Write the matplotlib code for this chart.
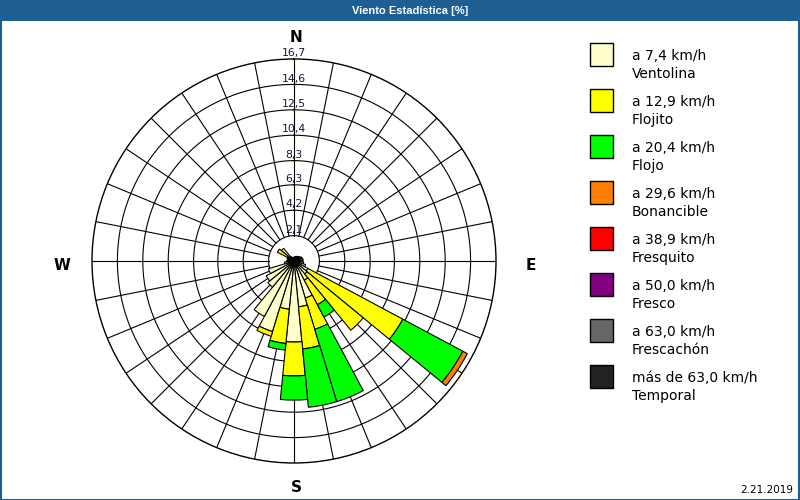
import numpy as np
import matplotlib
matplotlib.use('Agg')
import matplotlib.pyplot as plt
from matplotlib.patches import Rectangle

# ---- data ----
directions = [i * 11.25 for i in range(32)]  # bearing of each sector (deg)
ventolina = [0.3, 0.35, 0.4, 0.45, 0.5, 0.6, 0.7, 0.75, 0.75, 0.8, 1.0, 1.3,
             1.4, 1.8, 3.2, 3.8, 6.7, 4.0, 6.1, 5.2, 2.8, 2.6, 2.2, 0.8,
             0.6, 0.5, 0.6, 0.6, 1.35, 0.4, 0.3, 0.3]
flojito = [0, 0, 0, 0, 0, 0, 0, 0, 0, 0, 0, 8.9,
           6.0, 2.3, 2.7, 3.5, 2.8, 2.85, 0.4, 0, 0, 0, 0, 0,
           0, 0, 0, 0.95, 0, 0, 0, 0]
flojo = [0, 0, 0, 0, 0, 0, 0, 0, 0, 0, 0, 5.63,
         0, 1.15, 6.25, 4.85, 2.0, 0.55, 0, 0, 0, 0, 0, 0,
         0, 0, 0, 0, 0, 0, 0, 0]
bonancible = [0, 0, 0, 0, 0, 0, 0, 0, 0, 0, 0, 0.42,
              0, 0, 0, 0, 0, 0, 0, 0, 0, 0, 0, 0,
              0, 0, 0, 0, 0, 0, 0, 0]
fresquito = [0] * 32
fresco = [0] * 32
frescachon = [0] * 32
temporal = [0] * 32

speed_labels = ['a 7,4 km/h', 'a 12,9 km/h', 'a 20,4 km/h', 'a 29,6 km/h',
                'a 38,9 km/h', 'a 50,0 km/h', 'a 63,0 km/h', 'más de 63,0 km/h']
class_names = ['Ventolina', 'Flojito', 'Flojo', 'Bonancible',
               'Fresquito', 'Fresco', 'Frescachón', 'Temporal']
colors = ['#FFFFCC', '#FFFF00', '#00FF00', '#FF8000',
          '#FF0000', '#800080', '#666666', '#222222']
ring_values = [2.1, 4.2, 6.3, 8.3, 10.4, 12.5, 14.6, 16.7]
ring_labels = ['2,1', '4,2', '6,3', '8,3', '10,4', '12,5', '14,6', '16,7']
compass = ['N', 'E', 'S', 'W']
title = 'Viento Estadística [%]'
date_text = '2.21.2019'

series = [ventolina, flojito, flojo, bonancible, fresquito, fresco, frescachon, temporal]

# ---- figure ----
W, H = 800, 500
fig = plt.figure(figsize=(8, 5), dpi=100)
fig.patch.set_facecolor('white')

def fx(px):
    return px / W

def fy(py):
    return 1 - py / H

blue = '#1D5E93'
fig.patches.append(Rectangle((0, fy(21)), 1, 21 / H, transform=fig.transFigure,
                             facecolor=blue, edgecolor='none', zorder=0))
fig.patches.append(Rectangle((0.0008, 0.001), 0.998, 0.998, transform=fig.transFigure,
                             facecolor='none', edgecolor=blue, lw=1.5, zorder=0))
fig.text(fx(410), fy(10.5), title, ha='center', va='center', color='white',
         fontsize=8, fontweight='bold', family='Liberation Sans')

ax = fig.add_axes([0.115, 0.074, 0.505, 0.808], projection='polar')
ax.set_theta_zero_location('N')
ax.set_theta_direction(-1)
rmax = ring_values[-1]
ax.set_ylim(0, rmax)
ax.set_xticks([])
ax.set_yticks([])
ax.grid(False)
ax.spines['polar'].set_color('black')
ax.spines['polar'].set_linewidth(1.0)
ax.set_facecolor('white')

# grid rings and spokes
tt = np.linspace(0, 2 * np.pi, 721)
for r in ring_values[:-1]:
    ax.plot(tt, np.full_like(tt, r), color='black', lw=0.8, zorder=1)
for d in directions:
    th = np.deg2rad(d)
    ax.plot([th, th], [ring_values[0], rmax], color='black', lw=0.8, zorder=1)

# stacked bars
theta = np.deg2rad(directions)
width = 2 * np.pi / len(directions)
bottom = np.zeros(len(directions))
for vals, col in zip(series, colors):
    v = np.array(vals, dtype=float)
    mask = v > 0
    if mask.any():
        ax.bar(theta[mask], v[mask], width=width, bottom=bottom[mask],
               color=col, edgecolor='black', linewidth=0.8, zorder=3,
               align='center')
    bottom = bottom + v

# ring labels along N axis
for r, lab in zip(ring_values, ring_labels):
    ax.annotate(lab, xy=(0, r), xytext=(0, 2), textcoords='offset points',
                ha='center', va='baseline', fontsize=7.8, color='#15153a',
                zorder=5, annotation_clip=False)

# compass letters
cpos = {'N': (296, 37), 'E': (531, 265), 'S': (296, 488), 'W': (62, 265)}
for c in compass:
    x, y = cpos[c]
    fig.text(fx(x), fy(y), c, ha='center', va='center', fontsize=11,
             fontweight='bold', color='black')

# legend
for k, (lab, name, col) in enumerate(zip(speed_labels, class_names, colors)):
    ytop = 43 + 46 * k
    fig.patches.append(Rectangle((fx(590), fy(ytop + 23)), 23 / W, 23 / H,
                                 transform=fig.transFigure, facecolor=col,
                                 edgecolor='black', lw=1.0, zorder=2))
    fig.text(fx(632), fy(ytop + 13.5), lab, ha='left', va='center',
             fontsize=10, color='black')
    fig.text(fx(632), fy(ytop + 31), name, ha='left', va='center',
             fontsize=10, color='black')

fig.text(fx(793), fy(490), date_text, ha='right', va='center', fontsize=7.5,
         color='black')

fig.savefig('out.png', dpi=100)
